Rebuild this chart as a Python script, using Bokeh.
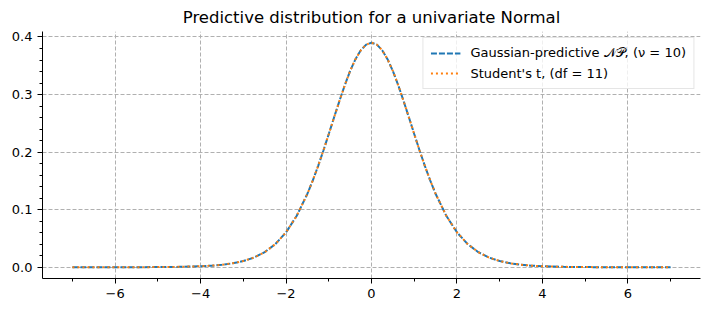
from bokeh.plotting import figure
from bokeh.models import (SingleIntervalTicker, CustomJSTickFormatter, Legend,
                          LegendItem, Range1d)
from bokeh.embed import file_html
from bokeh.resources import INLINE

# Density values of the predictive distribution along x
x_vals = [-7.0, -6.5, -6.0, -5.5, -5.0, -4.5, -4.0, -3.75, -3.5, -3.25, -3.0,
          -2.75, -2.5, -2.25, -2.0, -1.75, -1.5, -1.375, -1.25, -1.125, -1.0,
          -0.875, -0.75, -0.625, -0.5, -0.375, -0.25, -0.125, 0.0,
          0.125, 0.25, 0.375, 0.5, 0.625, 0.75, 0.875, 1.0, 1.125, 1.25,
          1.375, 1.5, 1.75, 2.0, 2.25, 2.5, 2.75, 3.0, 3.25, 3.5, 3.75, 4.0,
          4.5, 5.0, 5.5, 6.0, 6.5, 7.0]

gauss_pred_y = [0.000015, 0.00003, 0.00006, 0.00014, 0.00032, 0.00074, 0.00179,
                0.00279, 0.00438, 0.00688, 0.0108, 0.0169, 0.0262, 0.0403,
                0.0607, 0.0894, 0.1277, 0.1506, 0.1758, 0.2029, 0.2314,
                0.2605, 0.289, 0.3163, 0.341, 0.3614, 0.377, 0.3867, 0.390,
                0.3867, 0.377, 0.3614, 0.341, 0.3163, 0.289, 0.2605, 0.2314,
                0.2029, 0.1758, 0.1506, 0.1277, 0.0894, 0.0607, 0.0403, 0.0262,
                0.0169, 0.0108, 0.00688, 0.00438, 0.00279, 0.00179, 0.00074,
                0.00032, 0.00014, 0.00006, 0.00003, 0.000015]

student_t_y = [0.000015, 0.00003, 0.00006, 0.00014, 0.00032, 0.00074, 0.00179,
               0.00279, 0.00438, 0.00688, 0.0108, 0.0169, 0.0262, 0.0403,
               0.0607, 0.0894, 0.1277, 0.1506, 0.1758, 0.2029, 0.2314,
               0.2605, 0.289, 0.3163, 0.341, 0.3614, 0.377, 0.3867, 0.390,
               0.3867, 0.377, 0.3614, 0.341, 0.3163, 0.289, 0.2605, 0.2314,
               0.2029, 0.1758, 0.1506, 0.1277, 0.0894, 0.0607, 0.0403, 0.0262,
               0.0169, 0.0108, 0.00688, 0.00438, 0.00279, 0.00179, 0.00074,
               0.00032, 0.00014, 0.00006, 0.00003, 0.000015]

labels = ["Gaussian-predictive \U0001D4A9\U0001D4AB, (\u03BD = 10)",
          "Student's t, (df = 11)"]

FONT = "DejaVu Sans"

p = figure(width=711, height=311, output_backend="svg", toolbar_location=None,
           title="Predictive distribution for a univariate Normal",
           x_range=Range1d(-7.7, 7.7), y_range=Range1d(-0.0195, 0.4095),
           min_border_left=42, min_border_right=11, min_border_bottom=33,
           min_border_top=30)

p.title.align = "center"
p.title.text_font = FONT
p.title.text_font_size = "16.5px"
p.title.text_font_style = "normal"
p.title.text_color = "black"

p.outline_line_color = None
p.background_fill_color = "white"
p.border_fill_color = "white"

# axes
for ax in (p.xaxis[0], p.yaxis[0]):
    ax.axis_line_color = "black"
    ax.axis_line_width = 1
    ax.major_tick_line_color = "black"
    ax.minor_tick_line_color = "black"
    ax.major_tick_out = 5
    ax.major_tick_in = 0
    ax.minor_tick_out = 3
    ax.minor_tick_in = 0
    ax.major_label_text_font = FONT
    ax.major_label_text_font_size = "13px"
    ax.major_label_text_color = "black"
    ax.major_label_standoff = 5

p.xaxis.ticker = SingleIntervalTicker(interval=2, num_minor_ticks=2)
p.yaxis.ticker = SingleIntervalTicker(interval=0.1, num_minor_ticks=5)
p.xaxis.formatter = CustomJSTickFormatter(
    code="return (tick < 0 ? '\u2212' : '') + Math.abs(tick).toFixed(0);")
p.yaxis.formatter = CustomJSTickFormatter(code="return tick.toFixed(1);")

for g in (p.xgrid[0], p.ygrid[0]):
    g.grid_line_color = "#b0b0b0"
    g.grid_line_dash = "4 2"
    g.grid_line_width = 1

r1 = p.line(x_vals, gauss_pred_y, line_color="#1f77b4", line_width=2,
            line_dash="6 2")
r2 = p.line(x_vals, student_t_y, line_color="#ff7f0e", line_width=2,
            line_dash="2 3")

legend = Legend(items=[LegendItem(label=labels[0], renderers=[r1]),
                       LegendItem(label=labels[1], renderers=[r2])],
                location="top_right")
legend.label_text_font = FONT
legend.label_text_font_size = "13px"
legend.label_text_color = "black"
legend.glyph_width = 30
legend.glyph_height = 16
legend.label_standoff = 10
legend.spacing = 4
legend.padding = 7
legend.margin = 6
legend.border_line_color = "#cccccc"
legend.border_line_width = 1
legend.background_fill_alpha = 0.8
p.add_layout(legend)

open("out.html", "w").write(file_html(p, INLINE))
